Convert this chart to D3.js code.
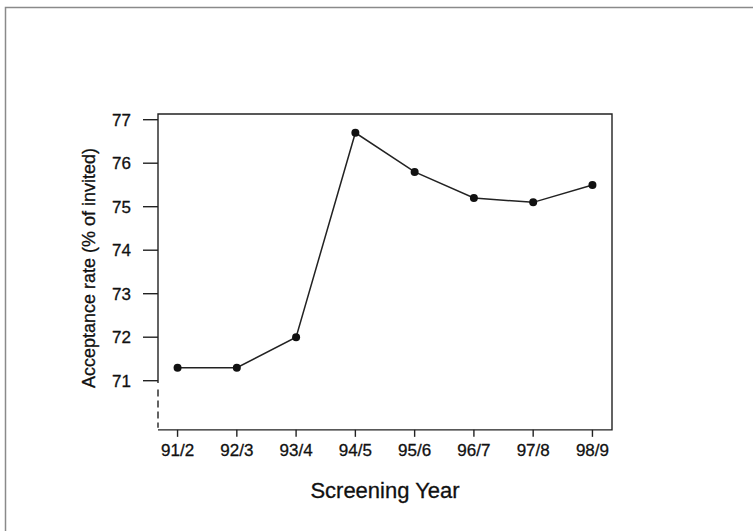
<!DOCTYPE html>
<html>
<head>
<meta charset="utf-8">
<script src="https://cdn.jsdelivr.net/npm/d3@7"></script>
<style>
  body { margin: 0; background: #fff; }
  svg { display: block; }
  text { font-family: "Liberation Sans", Arial, sans-serif; fill: #111; stroke: #111; stroke-width: 0.3px; }
</style>
</head>
<body>
<svg id="chart"></svg>
<script>
// data
const years = ["91/2", "92/3", "93/4", "94/5", "95/6", "96/7", "97/8", "98/9"];
const rates = [71.3, 71.3, 72.0, 76.7, 75.8, 75.2, 75.1, 75.5];
const yTicks = [71, 72, 73, 74, 75, 76, 77];

const width = 753, height = 531;
const ink = "#222";

const svg = d3.select("#chart")
  .attr("width", width)
  .attr("height", height);

// outer frame of the scanned page (only top + left edges show)
svg.append("path")
  .attr("d", "M5.5," + height + " V7.5 H" + width)
  .attr("fill", "none")
  .attr("stroke", "#8a8a8a")
  .attr("stroke-width", 1.5);

const x = d3.scalePoint()
  .domain(years)
  .range([158, 612])
  .padding(0.33);

const y = d3.scaleLinear()
  .domain([71, 77])
  .range([380.7, 119.7]);

const plotLeft = 158, plotRight = 612;
const plotTop = y(77.13), plotBottom = y(69.87);

const g = svg.append("g");

// frame: top, right, bottom + solid part of the left axis
g.append("path")
  .attr("d", `M${plotLeft},${y(70.95)} V${plotTop} H${plotRight} V${plotBottom} H${plotLeft}`)
  .attr("fill", "none")
  .attr("stroke", ink)
  .attr("stroke-width", 1.4);

// broken part of the y axis
g.append("line")
  .attr("x1", plotLeft).attr("x2", plotLeft)
  .attr("y1", y(70.8)).attr("y2", plotBottom - 2)
  .attr("stroke", ink)
  .attr("stroke-width", 1.4)
  .attr("stroke-dasharray", "7,4");

// y axis ticks + labels
const yAxis = g.append("g");
yAxis.selectAll("line")
  .data(yTicks)
  .join("line")
  .attr("x1", plotLeft - 15).attr("x2", plotLeft)
  .attr("y1", d => y(d)).attr("y2", d => y(d))
  .attr("stroke", ink)
  .attr("stroke-width", 1.4);
yAxis.selectAll("text")
  .data(yTicks)
  .join("text")
  .attr("x", 131)
  .attr("y", d => y(d))
  .attr("dy", "0.36em")
  .attr("text-anchor", "end")
  .style("font-size", "17px")
  .text(d => d);

// x axis ticks + labels
const xAxis = g.append("g");
xAxis.selectAll("line")
  .data(years)
  .join("line")
  .attr("x1", d => x(d)).attr("x2", d => x(d))
  .attr("y1", plotBottom).attr("y2", plotBottom + 7)
  .attr("stroke", ink)
  .attr("stroke-width", 1.4);
xAxis.selectAll("text")
  .data(years)
  .join("text")
  .attr("x", d => x(d))
  .attr("y", plotBottom + 26)
  .attr("text-anchor", "middle")
  .style("font-size", "17px")
  .text(d => d);

// axis titles
svg.append("text")
  .attr("x", 385)
  .attr("y", 498)
  .attr("text-anchor", "middle")
  .style("font-size", "22px")
  .text("Screening Year");

svg.append("text")
  .attr("transform", "translate(95,268) rotate(-90)")
  .attr("text-anchor", "middle")
  .style("font-size", "18px")
  .text("Acceptance rate (% of invited)");

// series
const pts = years.map((yr, i) => ({ yr: yr, v: rates[i] }));

g.append("path")
  .datum(pts)
  .attr("fill", "none")
  .attr("stroke", ink)
  .attr("stroke-width", 1.5)
  .attr("d", d3.line().x(d => x(d.yr)).y(d => y(d.v)));

g.selectAll("circle")
  .data(pts)
  .join("circle")
  .attr("cx", d => x(d.yr))
  .attr("cy", d => y(d.v))
  .attr("r", 4)
  .attr("fill", "#111");
</script>
</body>
</html>
